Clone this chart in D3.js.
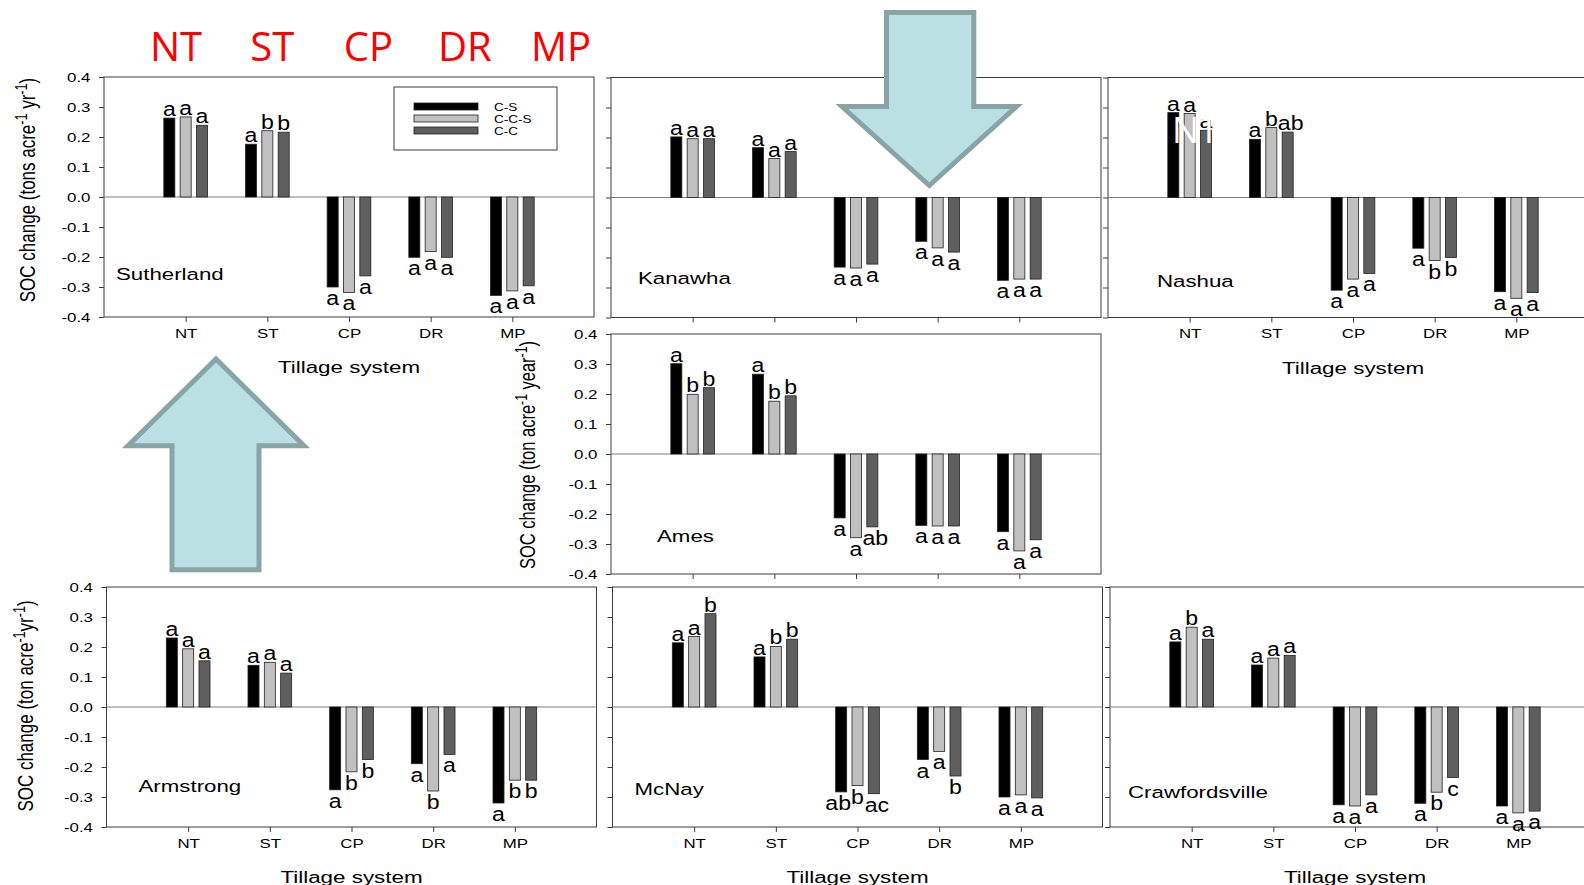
<!DOCTYPE html>
<html>
<head>
<meta charset="utf-8">
<script src="https://cdn.jsdelivr.net/npm/d3@7"></script>
<style>
  body { margin: 0; background: #fff; }
</style>
</head>
<body>
<div id="chart"></div>
<script>
// SOC change by tillage system and rotation, seven Iowa-area sites

var tillage = ["NT", "ST", "CP", "DR", "MP"];
var rotations = ["C-S", "C-C-S", "C-C"];
var headerLabels = ["NT", "ST", "CP", "DR", "MP"];
var yTicks = [0.4, 0.3, 0.2, 0.1, 0.0, -0.1, -0.2, -0.3, -0.4];

// values: one row per rotation (C-S, C-C-S, C-C), one column per tillage
var sutherlandSOC = [
    [0.263, 0.176, -0.300, -0.201, -0.328],
    [0.267, 0.221, -0.318, -0.182, -0.313],
    [0.239, 0.216, -0.263, -0.201, -0.296]
];
var sutherlandLetters = [
    ["a", "a", "a", "a", "a"],
    ["a", "b", "a", "a", "a"],
    ["a", "b", "a", "a", "a"]
];

var kanawhaSOC = [
    [0.202, 0.166, -0.232, -0.146, -0.276],
    [0.196, 0.130, -0.235, -0.168, -0.272],
    [0.196, 0.153, -0.222, -0.182, -0.272]
];
var kanawhaLetters = [
    ["a", "a", "a", "a", "a"],
    ["a", "a", "a", "a", "a"],
    ["a", "a", "a", "a", "a"]
];

var nashuaSOC = [
    [0.283, 0.194, -0.309, -0.169, -0.314],
    [0.280, 0.233, -0.272, -0.210, -0.336],
    [0.224, 0.218, -0.253, -0.200, -0.317]
];
var nashuaLetters = [
    ["a", "a", "a", "a", "a"],
    ["a", "b", "a", "b", "a"],
    ["a", "ab", "a", "b", "a"]
];

var amesSOC = [
    [0.301, 0.266, -0.213, -0.238, -0.259],
    [0.199, 0.176, -0.279, -0.240, -0.323],
    [0.221, 0.194, -0.243, -0.240, -0.286]
];
var amesLetters = [
    ["a", "a", "a", "a", "a"],
    ["b", "b", "a", "a", "a"],
    ["b", "b", "ab", "a", "a"]
];

var armstrongSOC = [
    [0.230, 0.139, -0.276, -0.189, -0.320],
    [0.194, 0.149, -0.216, -0.280, -0.244],
    [0.154, 0.113, -0.175, -0.158, -0.244]
];
var armstrongLetters = [
    ["a", "a", "a", "a", "a"],
    ["a", "a", "b", "b", "b"],
    ["a", "a", "b", "a", "b"]
];

var mcnaySOC = [
    [0.214, 0.167, -0.283, -0.175, -0.300],
    [0.235, 0.202, -0.262, -0.148, -0.293],
    [0.311, 0.226, -0.289, -0.230, -0.303]
];
var mcnayLetters = [
    ["a", "a", "ab", "a", "a"],
    ["a", "b", "b", "a", "a"],
    ["b", "b", "ac", "b", "a"]
];

var crawfordsvilleSOC = [
    [0.217, 0.140, -0.326, -0.321, -0.330],
    [0.266, 0.163, -0.330, -0.284, -0.353],
    [0.226, 0.172, -0.293, -0.235, -0.347]
];
var crawfordsvilleLetters = [
    ["a", "a", "a", "a", "a"],
    ["b", "a", "a", "b", "a"],
    ["a", "a", "a", "c", "a"]
];

var rotationColors = ["#000000", "#c0c0c0", "#5f5f5f"];
var frameColor = "#3c3c3c";
var arialFont = "'Liberation Sans', Arial, sans-serif";
var stretch = 1.35;   // the sigmaplot text is widened in the original slide

var panelW = 490, panelH = 240;

var panels = [
    {site: "Sutherland", soc: sutherlandSOC, letters: sutherlandLetters, left: 104, top: 77,
        labelX: 12, labelY: 203, yLabels: true, xLabels: true, xTitle: true, legend: true,
        yTitle: {x: 35, y: 190, size: 17, parts: ["SOC change (tons acre", "-1", " yr", "-1", ")"]}},
    {site: "Kanawha", soc: kanawhaSOC, letters: kanawhaLetters, left: 611, top: 77.5,
        labelX: 27, labelY: 206, yLabels: false, xLabels: false, xTitle: false},
    {site: "Nashua", soc: nashuaSOC, letters: nashuaLetters, left: 1108, top: 77.5,
        labelX: 49, labelY: 209, yLabels: false, xLabels: true, xTitle: true, overlay: true},
    {site: "Ames", soc: amesSOC, letters: amesLetters, left: 611, top: 334,
        labelX: 46, labelY: 208, yLabels: true, xLabels: false, xTitle: false,
        yTitle: {x: 535, y: 455, size: 16.5, parts: ["SOC change (ton acre", "-1", " year", "-1", ")"]}},
    {site: "Armstrong", soc: armstrongSOC, letters: armstrongLetters, left: 106.5, top: 587,
        labelX: 32, labelY: 205, yLabels: true, xLabels: true, xTitle: true,
        yTitle: {x: 33, y: 706, size: 17, parts: ["SOC change (ton acre", "-1", "yr", "-1", ")"]}},
    {site: "McNay", soc: mcnaySOC, letters: mcnayLetters, left: 612.5, top: 587,
        labelX: 22, labelY: 208, yLabels: false, xLabels: true, xTitle: true},
    {site: "Crawfordsville", soc: crawfordsvilleSOC, letters: crawfordsvilleLetters, left: 1110, top: 587,
        labelX: 18, labelY: 211, yLabels: false, xLabels: true, xTitle: true}
];

var svg = d3.select("#chart").append("svg")
    .attr("width", 1584)
    .attr("height", 885)
    .style("display", "block");

svg.append("rect").attr("width", 1584).attr("height", 885).attr("fill", "#fff");

// red tillage headings over the first panel
var headerX = d3.scaleLinear().domain([0, headerLabels.length - 1]).range([176, 561]);
svg.selectAll(".header")
    .data(headerLabels)
    .enter()
    .append("text")
    .attr("class", "header")
    .attr("x", function (d, i) { return headerX(i); })
    .attr("y", 61)
    .attr("text-anchor", "middle")
    .attr("font-family", "'Open Sans', 'Noto Sans', sans-serif")
    .attr("font-size", 40)
    .attr("fill", "#ff0000")
    .text(function (d) { return d; });

panels.forEach(drawPanel);

function drawPanel(p) {
    var g = svg.append("g").attr("transform", "translate(" + p.left + "," + p.top + ")");

    var y = d3.scaleLinear().domain([-0.4, 0.4]).range([panelH, 0]);
    var x = d3.scalePoint().domain(tillage).range([0, panelW]).padding(1);
    var step = x.step();
    var barW = step * 0.135, barOff = step * 0.2;

    g.append("rect")
        .attr("width", panelW)
        .attr("height", panelH)
        .attr("fill", "none")
        .attr("stroke", frameColor)
        .attr("stroke-width", 1);

    g.append("line")
        .attr("x1", 0).attr("x2", panelW)
        .attr("y1", y(0)).attr("y2", y(0))
        .attr("stroke", "#808080")
        .attr("stroke-width", 1.2);

    var yAxis = g.append("g")
        .call(d3.axisLeft(y)
            .tickValues(yTicks)
            .tickSize(5)
            .tickPadding(5)
            .tickFormat(function (d) { return p.yLabels ? d.toFixed(1) : ""; }));
    yAxis.select(".domain").remove();
    yAxis.selectAll("line").attr("stroke", frameColor);
    yAxis.attr("font-family", arialFont).attr("font-size", 12.5);
    yAxis.selectAll("text").attr("fill", "#000").attr("transform", "scale(" + stretch + ",1)");

    var xAxis = g.append("g")
        .attr("transform", "translate(0," + panelH + ")")
        .call(d3.axisBottom(x)
            .tickSize(5)
            .tickPadding(7)
            .tickFormat(function (d) { return p.xLabels ? d : ""; }));
    xAxis.select(".domain").remove();
    xAxis.selectAll("line").attr("stroke", frameColor);
    xAxis.attr("font-family", arialFont).attr("font-size", 12.5);
    xAxis.selectAll("text").attr("fill", "#000").attr("transform", "scale(" + stretch + ",1)");

    var cells = [];
    p.soc.forEach(function (row, ri) {
        row.forEach(function (v, ti) {
            cells.push({ri: ri, t: tillage[ti], v: v, letter: p.letters[ri][ti]});
        });
    });

    g.selectAll(".bar")
        .data(cells)
        .enter()
        .append("rect")
        .attr("class", "bar")
        .attr("x", function (d) { return x(d.t) + (d.ri - 1) * barOff - barW / 2; })
        .attr("y", function (d) { return y(Math.max(0, d.v)); })
        .attr("width", barW)
        .attr("height", function (d) { return Math.abs(y(d.v) - y(0)); })
        .attr("fill", function (d) { return rotationColors[d.ri]; })
        .attr("stroke", "#222")
        .attr("stroke-width", 0.8);

    g.selectAll(".letter")
        .data(cells)
        .enter()
        .append("text")
        .attr("class", "letter")
        .attr("transform", function (d) {
            // two-letter groups sit a little apart so they do not run together
            var spread = d.letter.length > 1 ? (d.ri - 1) * 3 : 0;
            var lx = x(d.t) + (d.ri - 1) * barOff + spread;
            var ly = d.v >= 0 ? y(d.v) - 2 : y(d.v) + 18;
            return "translate(" + lx + "," + ly + ") scale(1.1,1)";
        })
        .attr("text-anchor", "middle")
        .attr("font-family", arialFont)
        .attr("font-size", 21)
        .attr("fill", "#000")
        .text(function (d) { return d.letter; });

    g.append("text")
        .attr("transform", "translate(" + p.labelX + "," + p.labelY + ") scale(" + stretch + ",1)")
        .attr("font-family", arialFont)
        .attr("font-size", 16.5)
        .attr("fill", "#000")
        .text(p.site);

    if (p.xTitle) {
        g.append("text")
            .attr("transform", "translate(" + (panelW / 2) + "," + (panelH + 56) + ") scale(1.4,1)")
            .attr("text-anchor", "middle")
            .attr("font-family", arialFont)
            .attr("font-size", 16)
            .attr("fill", "#000")
            .text("Tillage system");
    }

    if (p.legend) {
        var lg = g.append("g").attr("transform", "translate(290,10)");
        lg.append("rect")
            .attr("width", 163).attr("height", 63)
            .attr("fill", "#fff")
            .attr("stroke", frameColor);
        rotations.forEach(function (r, i) {
            lg.append("rect")
                .attr("x", 20).attr("y", 16 + i * 12)
                .attr("width", 64).attr("height", 7)
                .attr("fill", rotationColors[i])
                .attr("stroke", "#222")
                .attr("stroke-width", 0.8);
            lg.append("text")
                .attr("transform", "translate(100," + (23.5 + i * 12) + ") scale(" + stretch + ",1)")
                .attr("font-family", arialFont)
                .attr("font-size", 10)
                .attr("fill", "#000")
                .text(r);
        });
    }

    if (p.overlay) {
        // white heading text left over the Nashua bars in the original slide
        g.append("text")
            .attr("x", 64).attr("y", 65.5)
            .attr("font-family", "'Open Sans', 'Noto Sans', sans-serif")
            .attr("font-size", 36)
            .attr("fill", "#fff")
            .text("NT");
    }

    if (p.yTitle) {
        var size = p.yTitle.size, supSize = size * 0.74;
        var t = svg.append("text")
            .attr("transform", "translate(" + p.yTitle.x + "," + p.yTitle.y + ") rotate(-90) scale(1,1.3)")
            .attr("text-anchor", "middle")
            .attr("font-family", arialFont)
            .attr("font-size", size)
            .attr("fill", "#000");
        p.yTitle.parts.forEach(function (s, i) {
            var sup = (i % 2 === 1);
            t.append("tspan")
                .attr("dy", sup ? -6.5 : (i > 0 ? 6.5 : 0))
                .attr("font-size", sup ? supSize : size)
                .text(s);
        });
    }
}

// block arrows drawn on top of the panels
var arrowFill = "#bae0e3", arrowStroke = "#88a4a6";
var upArrow = [[216, 359], [304, 445.7], [259, 445.7], [259, 569.7], [172, 569.7], [172, 445.7], [128, 445.7]];
var downArrow = [[886.5, 12.5], [973.8, 12.5], [973.8, 106.5], [1016.5, 106.5], [929.3, 185.5], [842, 106.5], [886.5, 106.5]];

svg.selectAll(".arrow")
    .data([upArrow, downArrow])
    .enter()
    .append("path")
    .attr("class", "arrow")
    .attr("d", function (d) { return d3.line()(d) + "Z"; })
    .attr("fill", arrowFill)
    .attr("stroke", arrowStroke)
    .attr("stroke-width", 5)
    .attr("stroke-linejoin", "miter");
</script>
</body>
</html>
